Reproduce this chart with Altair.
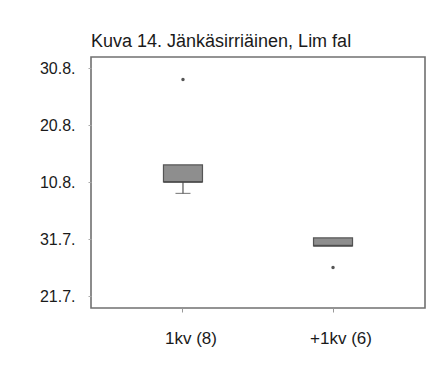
import altair as alt
import pandas as pd

# Day numbering: July d -> d, August d -> 31 + d
categories = ["1kv (8)", "+1kv (6)"]
whisker_low = [39, 29.8]
q1 = [41, 29.8]
median = [41, 29.8]
q3 = [44, 31.2]
whisker_high = [44, 31.2]

outlier_cat = ["1kv (8)", "+1kv (6)"]
outlier_day = [59, 26]

tick_days = [21, 31, 41, 51, 61]
tick_labels = ["21.7.", "31.7.", "10.8.", "20.8.", "30.8."]

boxes = pd.DataFrame({
    "cat": categories, "wlo": whisker_low, "q1": q1, "med": median,
    "q3": q3, "whi": whisker_high,
})
outliers = pd.DataFrame({"cat": outlier_cat, "day": outlier_day})

label_expr = ""
for d, l in zip(tick_days, tick_labels):
    label_expr += f"datum.value == {d} ? '{l}' : "
label_expr += "''"

FONT = "Liberation Sans"

x_enc = alt.X(
    "cat:N", sort=categories,
    scale=alt.Scale(paddingInner=0, paddingOuter=0.113),
    axis=alt.Axis(title=None, labelAngle=0, labelFontSize=17, labelColor="#1a1a1a",
                  labelFont=FONT, labelOffset=8, labelPadding=18, tickSize=4,
                  tickColor="#999", domain=False),
)
y_scale = alt.Scale(domain=[18.9, 62.93], nice=False, zero=False)
y_axis = alt.Axis(title=None, values=tick_days, labelExpr=label_expr, grid=False,
                  domain=False, tickSize=3, tickColor="#aaa", labelFontSize=16,
                  labelColor="#1a1a1a", labelFont=FONT, labelPadding=13)

base = alt.Chart(boxes).encode(x=x_enc)

whisk_lo = base.mark_rule(color="#555", strokeWidth=1.2).encode(
    y=alt.Y("wlo:Q", scale=y_scale, axis=y_axis), y2="q1:Q")
whisk_hi = base.mark_rule(color="#555", strokeWidth=1.2).encode(
    y=alt.Y("q3:Q"), y2="whi:Q")
cap_lo = base.transform_filter("datum.wlo < datum.q1").mark_tick(
    color="#555", size=15, thickness=1.2, orient="horizontal").encode(y="wlo:Q")
box = base.mark_bar(size=39, fill="#8e8e8e", stroke="#555", strokeWidth=1.2).encode(
    y="q1:Q", y2="q3:Q")
med = base.mark_tick(color="#444", size=39, thickness=2, orient="horizontal").encode(
    y="med:Q")
outl = alt.Chart(outliers).mark_point(filled=True, color="#555", size=12, opacity=1).encode(
    x=alt.X("cat:N", sort=categories), y=alt.Y("day:Q"))

chart = alt.layer(whisk_lo, whisk_hi, box, med, cap_lo, outl).properties(
    width=334, height=251,
    background="white",
    title=alt.TitleParams("Kuva 14. Jänkäsirriäinen, Lim fal", anchor="start",
                          frame="group", fontSize=18, fontWeight="normal", font=FONT,
                          color="#1a1a1a", offset=6),
    autosize=alt.AutoSizeParams(type="none"),
    padding={"left": 83, "top": 49, "right": 3, "bottom": 54},
).configure_view(stroke="#707070", strokeWidth=1.6)

chart.save("out.html", embed_options={"renderer": "svg", "actions": False})
